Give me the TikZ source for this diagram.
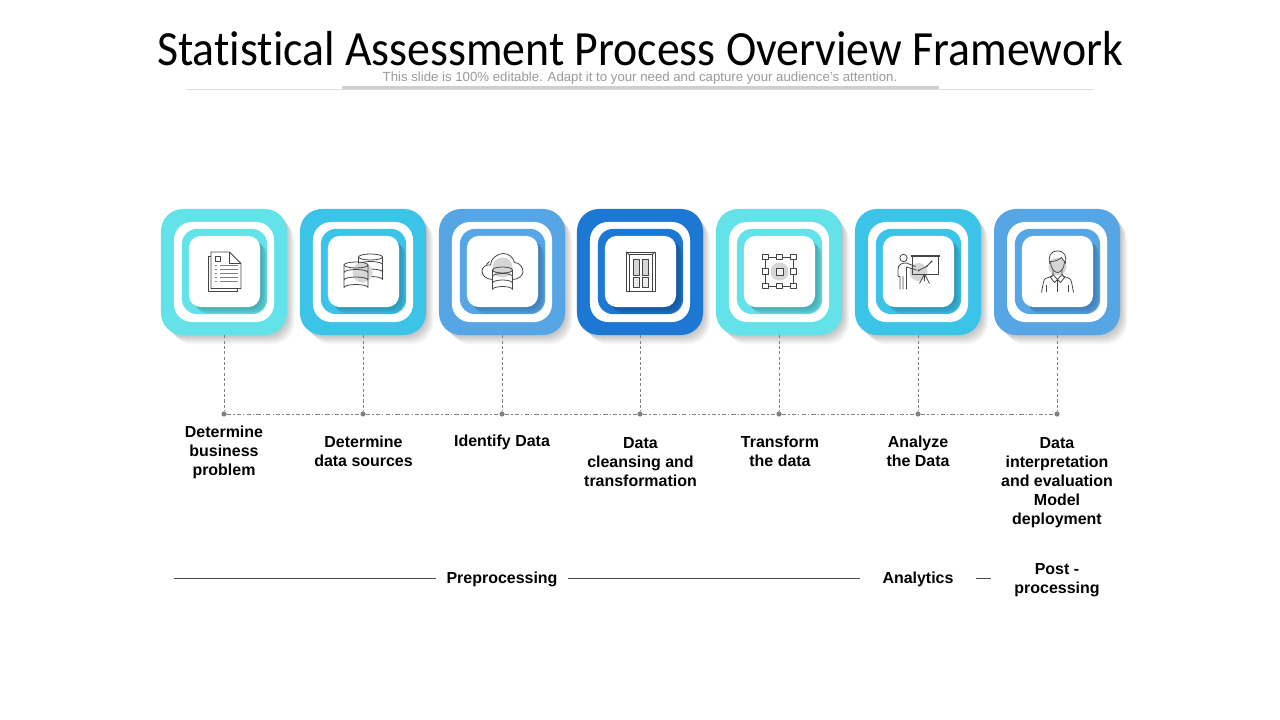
\documentclass[tikz,border=0pt]{standalone}
\usepackage{fontspec}
\setmainfont{Liberation Sans}
\newfontfamily\titlefont[Ligatures=NoCommon,FakeStretch=.93]{Carlito}
\usetikzlibrary{arrows.meta,positioning,calc}
\definecolor{muted}{HTML}{808080}
\definecolor{rulelt}{HTML}{DDDDDD}
\definecolor{rulemd}{HTML}{CFCFCF}
\definecolor{subtle}{HTML}{9A9A9A}
\definecolor{inkline}{HTML}{444444}
\definecolor{hilite}{HTML}{D6D6D6}
\definecolor{cardA}{HTML}{63E3E9}
\definecolor{cardB}{HTML}{3CC4E8}
\definecolor{cardC}{HTML}{56A6E6}
\definecolor{cardD}{HTML}{1C78D2}
\definecolor{deepA}{HTML}{3F98A2}
\definecolor{deepB}{HTML}{2A8AA8}
\definecolor{deepC}{HTML}{3A74A8}
\definecolor{deepD}{HTML}{154F8C}
\tikzset{
  cardouter/.style={rounded corners=.55cm, minimum size=3.15cm, inner sep=0pt},
  cardwhite/.style={fill=white, rounded corners=.45cm, minimum size=2.5cm, inner sep=0pt},
  cardinner/.style={rounded corners=.38cm, minimum size=2.13cm, inner sep=0pt},
  cardface/.style={fill=white, rounded corners=.3cm, minimum size=1.78cm, inner sep=0pt},
  ico/.style={draw=inkline, line width=.55pt, line join=round},
  stepdot/.style={circle, fill=muted, minimum size=.13cm, inner sep=0pt},
  drop/.style={draw=muted, line width=.4pt, dash pattern=on 2.2pt off 1.6pt},
  chain/.style={draw=muted, line width=.4pt, dash pattern=on 3pt off 1.5pt on 1pt off 1.5pt},
  steplbl/.style={font=\fontsize{11.35}{13.5}\selectfont\bfseries, align=center, inner sep=0pt},
  phase/.style={font=\fontsize{11.35}{13.5}\selectfont\bfseries, align=center, inner ysep=0pt},
  phaseline/.style={draw=black!70, line width=.45pt}
}
% icons, drawn around the middle of a card
\newcommand{\iconpages}{
  \draw[ico] (-13.5,-15) -- (-16.5,-15) -- (-16.5,19.5) -- (13,19.5) -- (13,17);
  \draw[ico, fill=white] (-13.5,-19.5) -- (5,-19.5) -- (16.5,-8) -- (16.5,17) -- (-13.5,17) -- cycle;
  \draw[ico] (5,-19.5) -- (5,-8) -- (16.5,-8);
  \draw[ico] (-9.5,-15.5) rectangle (-4.5,-10.5);
  \foreach \yy in {-6,-2,2,6,10}{
    \fill[muted] (-9.5,\yy-.7) rectangle (-8,\yy+.7);
    \draw[muted, line width=1.2pt] (-5,\yy) -- (13,\yy);
  }
}
\newcommand{\dbstack}[5]{% x, top y, half width, level height, levels
  \draw[ico] (#1,#2) ellipse[x radius=#3,y radius=3];
  \foreach \lvl in {1,...,#5}{
    \draw[ico] (#1-#3,#2+#4*\lvl-#4) -- (#1-#3,#2+#4*\lvl) arc[start angle=180,end angle=360,x radius=#3,y radius=3] -- (#1+#3,#2+#4*\lvl-#4);
  }
}
\newcommand{\iconcoins}{
  \dbstack{7}{-14.5}{12}{7.5}{3}
  \fill[white] (-19.5,-6.5) -- (-19.5,16) arc[start angle=180,end angle=360,x radius=12,y radius=3] -- (4.5,-6.5) arc[start angle=0,end angle=180,x radius=12,y radius=3] -- cycle;
  \fill[hilite] (-1,1) circle (10);
  \dbstack{-7.5}{-6.5}{12}{7.5}{3}
}
\newcommand{\iconcloud}{
  \fill[hilite] (0,-4) circle (10);
  \draw[ico] (-10,8) .. controls (-16,8) and (-21,4) .. (-20.5,-1)
    .. controls (-20,-5) and (-16,-7) .. (-12,-6.5)
    .. controls (-12,-13) and (-5,-18) .. (1,-18)
    .. controls (6,-18) and (11,-14) .. (12,-9)
    .. controls (17,-9) and (20.5,-4) .. (20.5,0)
    .. controls (20.5,4) and (16,8) .. (10,8);
  \draw[ico, dashed] (-16,-7) -- (-12,-11);
  \dbstack{0}{-1.5}{10}{6.5}{3}
}
\newcommand{\icondoor}{
  \draw[ico, fill=white, line width=.7pt] (-14.5,-19.5) rectangle (14.5,19.5);
  \draw[ico] (-11.5,-17) rectangle (11.5,19.5);
  \draw[ico] (-14.5,-19.5) -- (-11.5,-17) (14.5,-19.5) -- (11.5,-17);
  \foreach \xx in {-7.5,1.5}{
    \draw[ico, fill=hilite, line width=.7pt] (\xx,-12.5) rectangle (\xx+6,3.5);
    \draw[ico, fill=hilite!50, line width=.7pt] (\xx,5.5) rectangle (\xx+6,15.5);
  }
}
\newcommand{\iconframe}{
  \fill[hilite] (0,0) circle (9);
  \draw[ico] (-14,-14.5) rectangle (14,14.5);
  \foreach \xx in {-14,0,14}{
    \foreach \yy in {-14.5,0,14.5}{
      \ifdim\xx pt=0pt \ifdim\yy pt=0pt \else
        \draw[ico, fill=white, line width=.7pt] (\xx-2.7,\yy-2.7) rectangle (\xx+2.7,\yy+2.7);
      \fi \else
        \draw[ico, fill=white, line width=.7pt] (\xx-2.7,\yy-2.7) rectangle (\xx+2.7,\yy+2.7);
      \fi
    }
  }
  \draw[ico, fill=white!60!hilite, line width=.7pt] (-3.5,-3.5) rectangle (3.5,3.5);
}
\newcommand{\iconteacher}{
  \fill[hilite] (0,0.5) circle (9);
  \draw[ico] (-8,-16.5) -- (21,-16.5) (-8,-15) -- (21,-15);
  \draw[ico] (-6,-15) -- (-6,2.5) -- (19.5,2.5) -- (19.5,-15);
  \draw[ico] (6,2.5) -- (1,12) (6,2.5) -- (6,10) (6,2.5) -- (11,12);
  \draw[ico] (0,-1) -- (8,-5) -- (13,-10);
  \fill[inkline] (0,-1) circle (1) (8,-5) circle (1) (13,-10) circle (1);
  \draw[ico] (-15,-13.5) circle (3.7);
  \draw[ico] (-3,-5) -- (-12,-8.5) .. controls (-17,-8.5) and (-20.5,-7) .. (-20.5,-2) -- (-20.5,5)
    (-12,-4.5) -- (-2,-1.5) (-12,-4.5) -- (-12,18) (-15.5,18) -- (-15.5,5)
    (-18.5,18) -- (-18.5,5) (-20.5,5) -- (-18.5,5);
}
\newcommand{\iconperson}{
  \fill[hilite] (0,-5) circle (9);
  \draw[ico] (-7.5,-7.5) .. controls (-10,-15) and (-7,-20.5) .. (0,-20.5)
    .. controls (7,-20.5) and (10,-15) .. (7.5,-7.5);
  \draw[ico, fill=hilite] (-7,-10) .. controls (-2,-10) and (2,-12) .. (4,-14) .. controls (5,-12) and (6,-11) .. (7,-10)
    .. controls (7,-3) and (3,1) .. (0,1) .. controls (-3,1) and (-7,-3) .. (-7,-10);
  \draw[ico] (-4.5,-1) -- (-4.5,3) -- (0,8) -- (4.5,3) -- (4.5,-1);
  \draw[ico] (-4.5,3) -- (-7,6) -- (-3,11) -- (0,8) -- (3,11) -- (7,6) -- (4.5,3);
  \draw[ico] (-5,4.5) -- (-12,7) .. controls (-14,8) and (-14.5,13) .. (-16,21);
  \draw[ico] (5,4.5) -- (12,7) .. controls (14,8) and (14.5,13) .. (16,21);
  \draw[ico] (0,8) -- (0,21) (-11,14) -- (-11,21) (11,14) -- (11,21);
}

\begin{document}
\begin{tikzpicture}[x=.025cm,y=-.025cm]
  \useasboundingbox (0,0) rectangle (1280,720);
  \fill[white] (0,0) rectangle (1280,720);

  \node[inner sep=0pt, font=\fontsize{35}{40}\selectfont\titlefont] (title) at (640,49) {Statistical Assessment Process Overview Framework};
  \node[inner sep=0pt, text=subtle, font=\fontsize{9.4}{11}\selectfont] (subtitle) at (640,78.5) {This slide is 100\% editable. Adapt it to your need and capture your audience's attention.};
  \coordinate (ruleL) at (186,89.5);
  \coordinate (ruleR) at (1094,89.5);
  \coordinate (barL) at (342,87.5);
  \coordinate (barR) at (939,87.5);
  \draw[rulelt, line width=.5pt] (ruleL) -- (ruleR);
  \draw[rulemd, line width=1.5pt] (barL) -- (barR);

  % cards with their icons
  \foreach \i/\x/\tone/\pic in {1/224/A/\iconpages, 2/363/B/\iconcoins, 3/502/C/\iconcloud,
      4/640/D/\icondoor, 5/779/A/\iconframe, 6/918/B/\iconteacher, 7/1057/C/\iconperson}{
    \begin{scope}[shift={(\x,272)}]
      \foreach \d in {1,2,...,10}{
        \fill[black, opacity=.024, rounded corners=.55cm] (-63+\d,-63+\d) rectangle (63+.75*\d,63+.95*\d);
      }
    \end{scope}
    \node[cardouter, fill=card\tone] (card\i) at (\x,272) {};
    \node[cardwhite] (ring\i) at (card\i) {};
    \node[cardinner, fill=card\tone] (inner\i) at (\x+.5,271.5) {};
    \begin{scope}[shift={(\x+.5,271.5)}]
      \foreach \d in {1,2,...,7}{
        \fill[deep\tone, opacity=.16, rounded corners=.3cm] (-35.5+\d,-35.5+\d) rectangle (35.5+\d,35.5+\d);
      }
    \end{scope}
    \node[cardface] (face\i) at (inner\i) {};
    \begin{scope}[shift={(\x+.5,271.5)}]
      \pic
    \end{scope}
    \node[stepdot] (dot\i) at (\x,414) {};
    \draw[drop] (card\i) -- (dot\i);
  }
  \foreach \a/\b in {1/2,2/3,3/4,4/5,5/6,6/7}{
    \draw[chain] (dot\a) -- (dot\b);
  }

  \node[steplbl] (lbl1) at (224,452) {Determine\\business\\problem};
  \node[steplbl] (lbl2) at (363.5,451.5) {Determine\\data sources};
  \node[steplbl] (lbl3) at (502,442.5) {Identify Data};
  \node[steplbl] (lbl4) at (640.5,462.5) {Data\\cleansing and\\transformation};
  \node[steplbl] (lbl5) at (780,451.5) {Transform\\the data};
  \node[steplbl] (lbl6) at (918,451.5) {Analyze\\the Data};
  \node[steplbl] (lbl7) at (1057,482.5) {Data\\interpretation\\and evaluation\\Model\\deployment};

  \coordinate (phasestart) at (174,578);
  \node[phase, inner xsep=10*.025cm] (prep) at (502,579) {Preprocessing};
  \node[phase, inner xsep=22.5*.025cm] (ana) at (918,579) {Analytics};
  \node[phase, inner xsep=23*.025cm] (post) at (1057,580.5) {Post -\\processing};
  \coordinate (postend) at (post.west |- phasestart);
  \draw[phaseline] (phasestart) -- (prep.west |- phasestart);
  \draw[phaseline] (prep.east |- phasestart) -- (ana.west |- phasestart);
  \draw[phaseline] (ana.east |- phasestart) -- (postend);
\end{tikzpicture}
\end{document}
